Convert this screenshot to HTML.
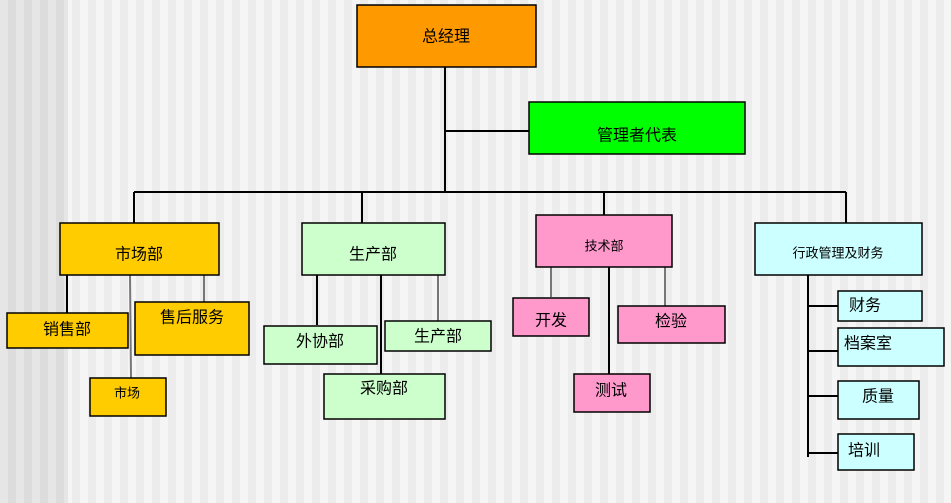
<!DOCTYPE html>
<html><head><meta charset="utf-8">
<style>
html,body{margin:0;padding:0;}
body{width:951px;height:503px;overflow:hidden;position:relative;
background:repeating-linear-gradient(90deg,#f5f5f5 0 8px,#ececec 8px 16px);}
#left{position:absolute;left:0;top:0;width:68px;height:503px;
background:repeating-linear-gradient(90deg,#e6e6e6 0 8px,#dcdcdc 8px 16px);}
svg{position:absolute;left:0;top:0;}
text{font-family:"Liberation Sans","Noto Sans CJK SC","WenQuanYi Zen Hei",sans-serif;fill:#000;text-anchor:middle;dominant-baseline:central;}
</style></head><body>
<div id="left"></div>
<svg width="951" height="503" viewBox="0 0 951 503">
<g stroke="#000" stroke-width="2" fill="none">
<line x1="445" y1="67" x2="445" y2="192"/>
<line x1="445" y1="131" x2="529" y2="131"/>
<line x1="134" y1="192" x2="846" y2="192"/>
<line x1="134" y1="192" x2="134" y2="223"/>
<line x1="362" y1="192" x2="362" y2="223"/>
<line x1="604" y1="192" x2="604" y2="215"/>
<line x1="846" y1="192" x2="846" y2="223"/>
<line x1="67" y1="275" x2="67" y2="313"/>
<line x1="317" y1="275" x2="317" y2="325"/>
<line x1="381" y1="275" x2="381" y2="374"/>
<line x1="609" y1="267" x2="609" y2="374"/>
<line x1="808" y1="275" x2="808" y2="457"/>
<line x1="808" y1="306" x2="838" y2="306"/>
<line x1="808" y1="351" x2="838" y2="351"/>
<line x1="808" y1="396" x2="838" y2="396"/>
<line x1="808" y1="453" x2="838" y2="453"/>
</g>
<g stroke="#777" stroke-width="2">
<line x1="204" y1="275" x2="204" y2="302"/>
<line x1="130" y1="275" x2="131" y2="378"/>
<line x1="438" y1="275" x2="438" y2="321"/>
<line x1="551" y1="267" x2="551" y2="297"/>
<line x1="665" y1="267" x2="665" y2="306"/>
</g>
<g stroke="#000" stroke-width="1.5">
<rect x="357" y="5" width="179" height="62" fill="#ff9900"/>
<rect x="529" y="102" width="216" height="52" fill="#00ff00"/>
<rect x="60" y="223" width="159" height="52" fill="#ffcc00"/>
<rect x="7" y="313" width="121" height="35" fill="#ffcc00"/>
<rect x="135" y="302" width="114" height="53" fill="#ffcc00"/>
<rect x="90" y="378" width="76" height="38" fill="#ffcc00"/>
<rect x="302" y="223" width="143" height="52" fill="#ccffcc"/>
<rect x="264" y="326" width="113" height="38" fill="#ccffcc"/>
<rect x="385" y="321" width="106" height="30" fill="#ccffcc"/>
<rect x="324" y="374" width="121" height="45" fill="#ccffcc"/>
<rect x="536" y="215" width="136" height="52" fill="#ff99cc"/>
<rect x="513" y="298" width="76" height="38" fill="#ff99cc"/>
<rect x="618" y="306" width="107" height="37" fill="#ff99cc"/>
<rect x="574" y="374" width="76" height="38" fill="#ff99cc"/>
<rect x="755" y="223" width="167" height="52" fill="#ccffff"/>
<rect x="838" y="291" width="84" height="30" fill="#ccffff"/>
<rect x="838" y="328" width="106" height="38" fill="#ccffff"/>
<rect x="838" y="381" width="81" height="38" fill="#ccffff"/>
<rect x="838" y="434" width="76" height="36" fill="#ccffff"/>
</g>
<g font-size="16">
<text x="446" y="37">总经理</text>
<text x="637" y="136">管理者代表</text>
<text x="139" y="255">市场部</text>
<text x="67" y="330">销售部</text>
<text x="192" y="318">售后服务</text>
<text x="127" y="393" font-size="13">市场</text>
<text x="373" y="255">生产部</text>
<text x="320" y="342">外协部</text>
<text x="438" y="337">生产部</text>
<text x="384" y="389">采购部</text>
<text x="604" y="246" font-size="13">技术部</text>
<text x="551" y="321">开发</text>
<text x="671" y="322">检验</text>
<text x="611" y="391">测试</text>
<text x="838" y="253" font-size="13">行政管理及财务</text>
<text x="865" y="306">财务</text>
<text x="868" y="344">档案室</text>
<text x="878" y="397">质量</text>
<text x="864" y="451">培训</text>
</g>
</svg>
</body></html>
